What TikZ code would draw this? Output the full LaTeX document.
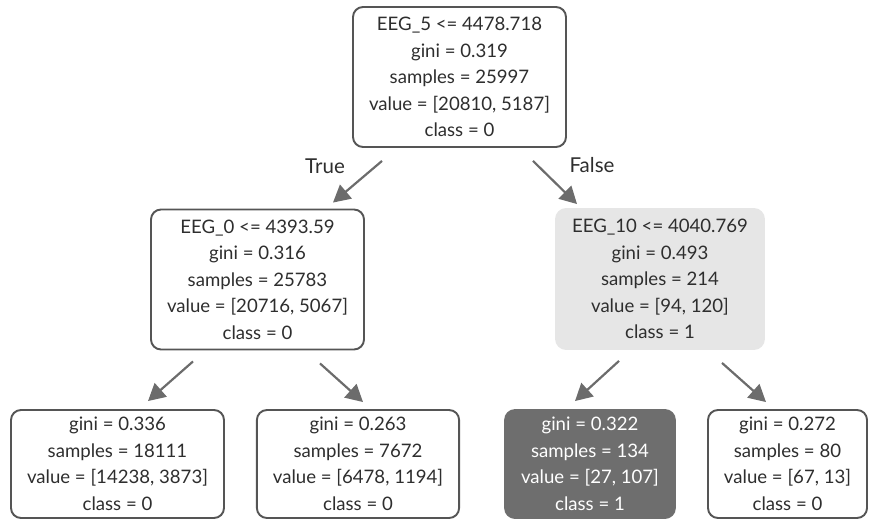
\documentclass[tikz,border=0pt]{standalone}
\usepackage{fontspec}
\setmainfont{Lato}
\usetikzlibrary{arrows.meta,positioning}
\definecolor{edge}{HTML}{555555}
\definecolor{ink}{HTML}{2E2E2E}
\definecolor{arrowgray}{HTML}{6C6C6C}
\definecolor{lightfill}{HTML}{E6E6E6}
\definecolor{darkfill}{HTML}{6E6E6E}
\begin{document}
\begin{tikzpicture}[
 x=1pt,y=-1pt,
 box/.style={draw=edge,line width=1.9pt,rounded corners=10pt,fill=white,text=ink,align=center,
  inner xsep=16pt,inner ysep=5pt,font=\fontsize{18.6}{26.5}\selectfont},
 split/.style={box,minimum height=140pt},
 leaf/.style={box,minimum height=108pt},
 arr/.style={-{Triangle[length=17pt,width=18pt]},line width=2.2pt,draw=arrowgray},
 lbl/.style={text=ink,font=\fontsize{20.5}{24}\selectfont}
]
\useasboundingbox (0,0) rectangle (872,521);
\node[split] (root) at (459.5,77) {EEG\_5 <= 4478.718\\gini = 0.319\\samples = 25997\\value = [20810, 5187]\\class = 0};
\node[split] (tl) at (257.5,279.5) {EEG\_0 <= 4393.59\\gini = 0.316\\samples = 25783\\value = [20716, 5067]\\class = 0};
\node[split,draw=lightfill,fill=lightfill] (tr) at (660,279) {EEG\_10 <= 4040.769\\gini = 0.493\\samples = 214\\value = [94, 120]\\class = 1};
\node[leaf] (ll) at (117.5,464) {gini = 0.336\\samples = 18111\\value = [14238, 3873]\\class = 0};
\node[leaf] (lr) at (358,464) {gini = 0.263\\samples = 7672\\value = [6478, 1194]\\class = 0};
\node[leaf,draw=darkfill,fill=darkfill,text=white] (rl) at (590,464) {gini = 0.322\\samples = 134\\value = [27, 107]\\class = 1};
\node[leaf] (rr) at (787.5,464) {gini = 0.272\\samples = 80\\value = [67, 13]\\class = 0};
\node[lbl] (truelbl) at ([shift={(-134.5pt,-18pt)}]root.south) {True};
\node[lbl] (falselbl) at ([shift={(132.5pt,-17pt)}]root.south) {False};
\draw[arr] ([shift={(-77.5pt,-13pt)}]root.south) -- ([shift={(75.5pt,6pt)}]tl.north);
\draw[arr] ([shift={(73.5pt,-13pt)}]root.south) -- ([shift={(-83pt,4pt)}]tr.north);
\draw[arr] ([shift={(-64.5pt,-11pt)}]tl.south) -- ([shift={(30.5pt,8pt)}]ll.north);
\draw[arr] ([shift={(62.5pt,-13pt)}]tl.south) -- ([shift={(5pt,7pt)}]lr.north);
\draw[arr] ([shift={(-41pt,-11pt)}]tr.south) -- ([shift={(-15pt,8pt)}]rl.north);
\draw[arr] ([shift={(62pt,-13pt)}]tr.south) -- ([shift={(-21.5pt,7pt)}]rr.north);
\end{tikzpicture}
\end{document}
